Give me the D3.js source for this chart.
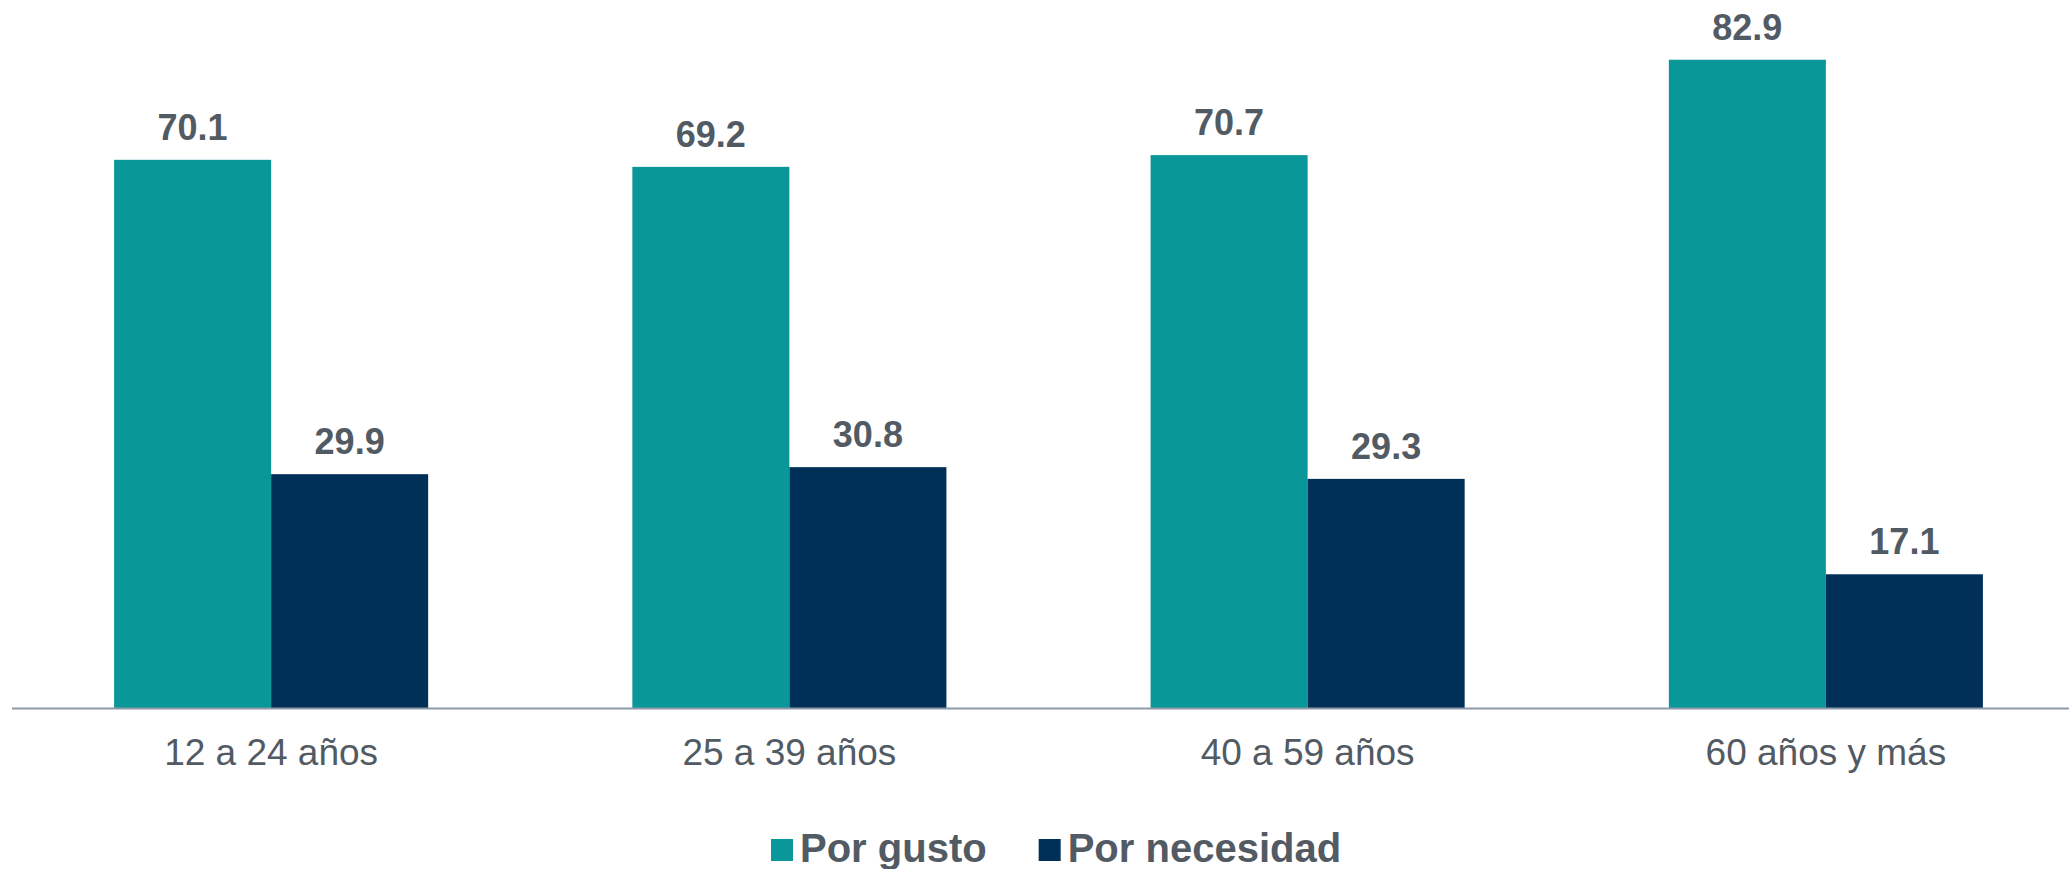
<!DOCTYPE html>
<html>
<head>
<meta charset="utf-8">
<script src="https://cdn.jsdelivr.net/npm/d3@7"></script>
<style>
html, body { margin: 0; padding: 0; background: #ffffff; }
svg { display: block; }
</style>
</head>
<body>
<svg id="chart" width="2069" height="869"></svg>
<script>
const categories = ["12 a 24 años", "25 a 39 años", "40 a 59 años", "60 años y más"];
const seriesNames = ["Por gusto", "Por necesidad"];
const porGusto = [70.1, 69.2, 70.7, 82.9];
const porNecesidad = [29.9, 30.8, 29.3, 17.1];
const colors = ["#0a9799", "#003057"];

const seriesValues = [porGusto, porNecesidad];
const data = categories.map((c, i) => ({
  cat: c,
  vals: seriesNames.map((s, j) => ({ key: s, value: seriesValues[j][i], color: colors[j] }))
}));

const svg = d3.select("#chart");
const baseY = 708;

const x0 = d3.scaleBand().domain(categories).range([12, 2085]).paddingInner(0.394).paddingOuter(0.197);
const x1 = d3.scaleBand().domain(seriesNames).range([0, x0.bandwidth()]).padding(0);
const y = d3.scaleLinear().domain([0, 90]).range([baseY, baseY - 7.82 * 90]);

const groups = svg.append("g").selectAll("g").data(data).join("g")
  .attr("transform", d => `translate(${x0(d.cat)},0)`);

groups.selectAll("rect").data(d => d.vals).join("rect")
  .attr("x", d => x1(d.key))
  .attr("y", d => y(d.value))
  .attr("width", x1.bandwidth())
  .attr("height", d => y(0) - y(d.value))
  .attr("fill", d => d.color);

groups.selectAll("text.val").data(d => d.vals).join("text")
  .attr("class", "val")
  .attr("x", d => x1(d.key) + x1.bandwidth() / 2)
  .attr("y", d => y(d.value) - 20)
  .attr("text-anchor", "middle")
  .attr("font-family", "Liberation Sans, Arial, sans-serif")
  .attr("font-weight", "bold")
  .attr("font-size", 36)
  .attr("fill", "#525a63")
  .text(d => d.value.toFixed(1));

// axis
const xAxis = d3.axisBottom(x0).tickSize(0).tickPadding(0);
const ax = svg.append("g").attr("transform", `translate(0,${baseY})`).call(xAxis);
ax.select(".domain").remove();
ax.selectAll("text")
  .attr("y", 57)
  .attr("dy", 0)
  .attr("font-family", "Liberation Sans, Arial, sans-serif")
  .attr("font-size", 37)
  .attr("fill", "#525a63");
svg.append("line")
  .attr("x1", 12).attr("x2", 2069)
  .attr("y1", baseY + 0.5).attr("y2", baseY + 0.5)
  .attr("stroke", "#8d9aa9").attr("stroke-width", 2);

// legend
const legend = svg.append("g").attr("transform", `translate(771,0)`);
let cx = 0;
seriesNames.forEach((s, i) => {
  legend.append("rect").attr("x", cx).attr("y", 839).attr("width", 22).attr("height", 22).attr("fill", colors[i]);
  cx += 29;
  const t = legend.append("text")
    .attr("x", cx).attr("y", 862)
    .attr("font-family", "Liberation Sans, Arial, sans-serif")
    .attr("font-weight", "bold")
    .attr("font-size", 40)
    .attr("fill", "#525a63")
    .text(s);
  cx += t.node().getComputedTextLength() + 52;
});
</script>
</body>
</html>
